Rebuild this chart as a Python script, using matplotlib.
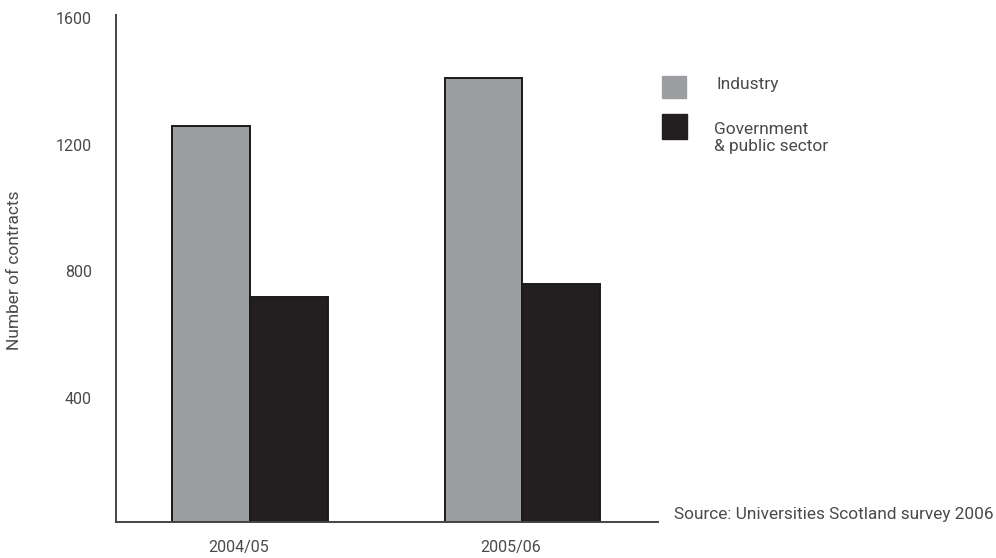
import matplotlib.pyplot as plt
import matplotlib.transforms as mtransforms
from matplotlib.patches import Rectangle
import numpy as np

plt.rcParams['font.family'] = ['Roboto', 'DejaVu Sans']

# contracts per year
years = ['2004/05', '2005/06']
industry = [1250, 1400]
government = [710, 750]
yticks = [400, 800, 1200, 1600]

txt_col = '#4a4a4a'
ind_col = '#9d9ea2'
gov_col = '#231f20'

fig = plt.figure(figsize=(9.96, 5.58), dpi=100)
ax = fig.add_axes([0.116, 0.065, 0.545, 0.908])

x = np.arange(len(years))
w = 0.285
ax.bar(x - w/2, industry, w, color=ind_col, edgecolor='#1a1a1a', linewidth=1.4)
ax.bar(x + w/2, government, w, color=gov_col, edgecolor='#1a1a1a', linewidth=1.4)

ax.set_xlim(-0.494, 1.5)
ax.set_ylim(0, 1600)

for s in ['top', 'right']:
    ax.spines[s].set_visible(False)
for s in ['left', 'bottom']:
    ax.spines[s].set_color('#444444')
    ax.spines[s].set_linewidth(1.4)

ax.set_yticks(yticks)
ax.set_yticklabels([str(v) for v in yticks], fontsize=11.5, color=txt_col)
ax.tick_params(axis='y', length=0, pad=17)
# nudge y labels down a little
off = mtransforms.ScaledTranslation(0, -3/100, fig.dpi_scale_trans)
for lab in ax.get_yticklabels():
    lab.set_transform(lab.get_transform() + off)

ax.set_xticks(x - 0.042)
ax.set_xticklabels(years, fontsize=11.5, color=txt_col)
ax.tick_params(axis='x', length=0, pad=13)

fig.text(0.015, 0.516, 'Number of contracts', rotation=90, fontsize=12.5,
         color=txt_col, ha='center', va='center')

# legend
W, H = 996, 558
def fig_rect(x0, y0, x1, y1, col):
    fig.patches.append(Rectangle((x0/W, 1 - y1/H), (x1-x0)/W, (y1-y0)/H,
                                 transform=fig.transFigure, color=col))

fig_rect(662, 76, 686, 98, ind_col)
fig_rect(662, 114, 687, 139, gov_col)
fig.text(716/W, 1 - 84/H, 'Industry', fontsize=12.5, color=txt_col, va='center')
fig.text(714/W, 1 - 138/H, 'Government\n& public sector', fontsize=12.5,
         color=txt_col, va='center')

fig.text(674/W, 1 - 514/H, 'Source: Universities Scotland survey 2006',
         fontsize=12.4, color=txt_col, va='center')

fig.savefig('out.png', dpi=100)
